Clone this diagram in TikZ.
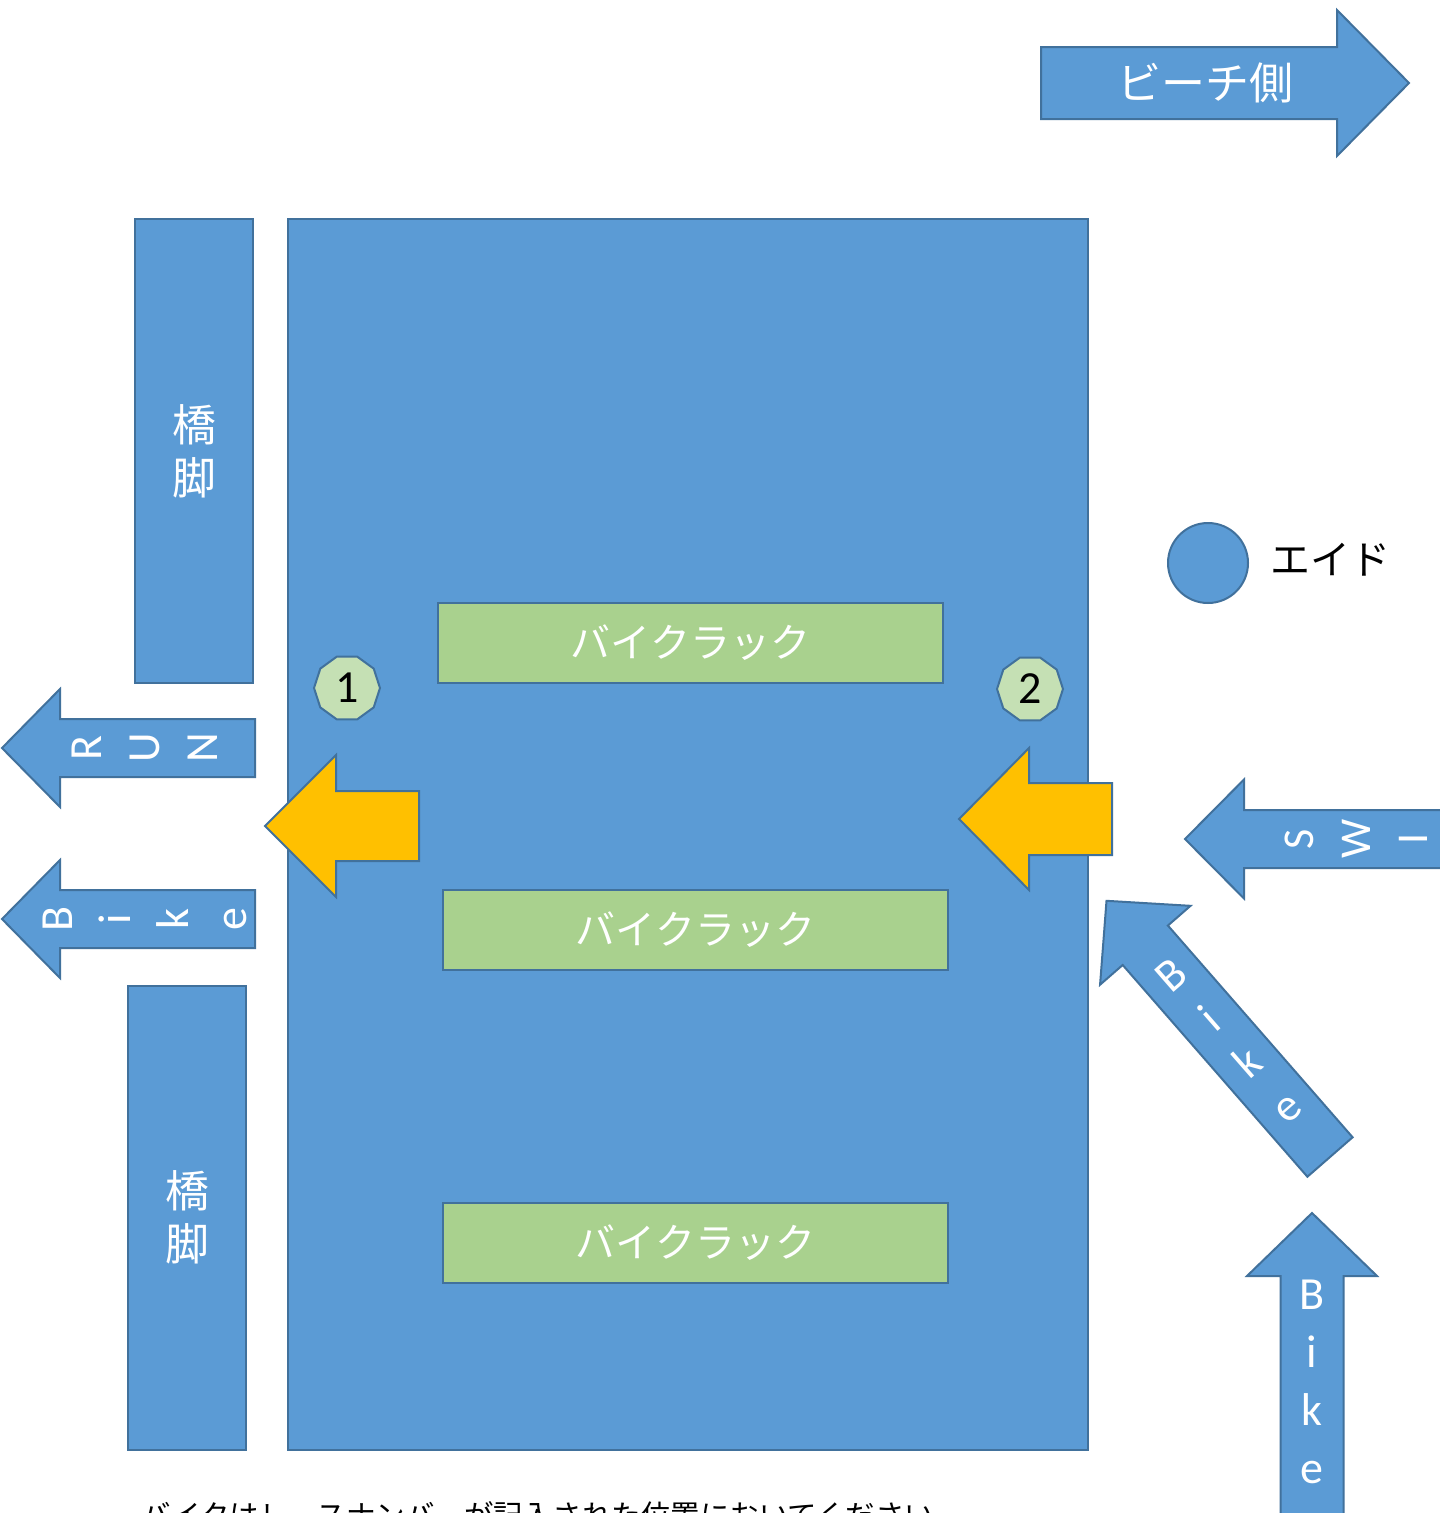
\documentclass[tikz,border=0pt]{standalone}
\usepackage{fontspec}
\setmainfont{Carlito}
\newfontfamily\jp{Noto Sans CJK JP}
\usetikzlibrary{shapes.geometric}
\definecolor{bfill}{HTML}{5B9BD5}
\definecolor{bline}{HTML}{41719C}
\definecolor{gfill}{HTML}{A9D18E}
\definecolor{yfill}{HTML}{FFC000}
\definecolor{ofill}{HTML}{C5E0B4}
\tikzset{
  blk/.style={fill=bfill, draw=bline, line width=2pt},
  rackbox/.style={fill=gfill, draw=bline, line width=2pt, inner sep=0pt,
    minimum width=505pt, minimum height=80pt, text=white,
    font=\jp\fontsize{40}{48}\selectfont},
  pillar/.style={blk, inner sep=0pt, minimum width=118pt, minimum height=464pt,
    text=white, align=center, font=\jp\fontsize{44}{53}\selectfont},
  numoct/.style={regular polygon, regular polygon sides=10, minimum size=66pt,
    inner sep=0pt, fill=ofill, draw=bline, line width=2pt,
    font=\fontsize{46}{46}\selectfont},
  letters/.style={text=white, align=center, inner sep=0pt,
    font=\fontsize{46}{58}\selectfont},
  jplabel/.style={text=white, inner sep=0pt, font=\jp\fontsize{44}{53}\selectfont},
}
% tail centre x, y, direction angle, shaft length, head length, shaft half width, head half width, style
\newcommand{\blockarr}[8]{%
  \begin{scope}[shift={(#1,#2)}, rotate=#3]
    \path[#8] (0,-#6) -- (#4,-#6) -- (#4,-#7) -- ({#4+#5},0) -- (#4,#7)
      -- (#4,#6) -- (0,#6) -- cycle;
  \end{scope}}
\begin{document}
\begin{tikzpicture}[x=1pt, y=-1pt]
\fill[white] (0,0) rectangle (1440,1513);
\useasboundingbox (0,0) rectangle (1440,1513);

% main area
\node[blk, inner sep=0pt, minimum width=800pt, minimum height=1231pt] (area) at (688,834.5) {};

% bike racks
\node[rackbox] (rack1) at (690.5,643) {バイクラック};
\node[rackbox] (rack2) at (695.5,929.5) {バイクラック};
\node[rackbox] (rack3) at (695.5,1242.5) {バイクラック};

% yellow arrows
\blockarr{419}{826}{180}{83}{71}{35}{71}{fill=yfill, draw=bline, line width=2pt}
\blockarr{1112}{819}{180}{83}{70}{36}{71}{fill=yfill, draw=bline, line width=2pt}

% numbered marks
\node[numoct] (n1) at (347,688) {1};
\node[numoct] (n2) at (1030,689) {2};

% pillars
\node[pillar] (pil1) at (194,451) {橋\\脚};
\node[pillar] (pil2) at (187,1217.5) {橋\\脚};

% left arrows
\blockarr{255}{748}{180}{195}{58}{29}{59}{blk}
\node[letters, rotate=90] (run) at (145,748) {R\\U\\N};
\blockarr{255}{919}{180}{195}{58}{29}{59}{blk}
\node[letters, rotate=90] (bikeout) at (145,919) {B\\i\\k\\e};

% swim arrow
\blockarr{1500}{839}{180}{256}{59}{29}{59.5}{blk}
\node[letters, rotate=90, font=\fontsize{44}{57}\selectfont] (swim) at (1356,839) {S\\W\\I};

% diagonal bike arrow
\blockarr{1330}{1157}{131.1}{281}{59}{30}{60}{blk}
\node[letters, rotate=41.1] (bikediag) at (1229,1041) {B\\i\\k\\e};

% upward bike arrow
\blockarr{1312}{1560}{90}{284}{63}{31.5}{65}{blk}
\node[letters] (bikeup) at (1312,1382) {B\\i\\k\\e};

% beach arrow
\blockarr{1041}{83}{0}{296}{72}{36}{73}{blk}
\node[jplabel] (beach) at (1205,83) {ビーチ側};

% legend
\node[circle, blk, minimum size=80pt, inner sep=0pt] (aid) at (1208,563) {};
\node[inner sep=0pt, font=\jp\fontsize{40}{48}\selectfont] (aidlabel) at (1330,560) {エイド};

% note (cut off at the bottom edge, as in the reference)
\node[anchor=base, inner sep=0pt, font=\jp\fontsize{29.5}{32}\selectfont] (note) at (538,1526)
  {バイクはレースナンバーが記入された位置においてください};
\end{tikzpicture}
\end{document}
